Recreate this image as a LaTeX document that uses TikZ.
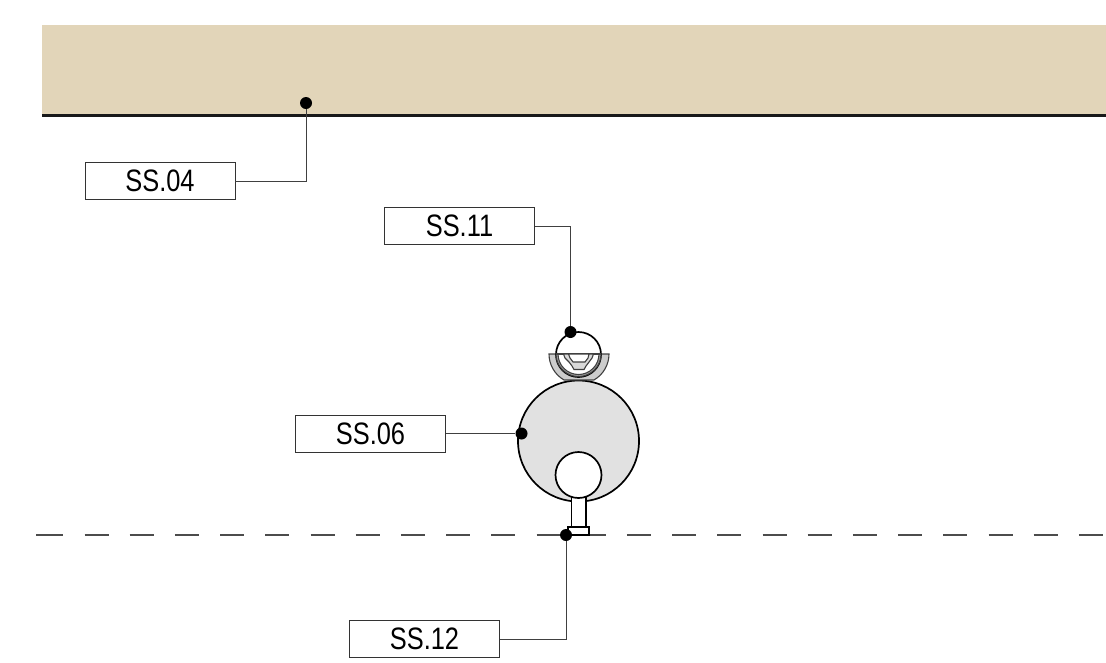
\documentclass[tikz,border=0pt]{standalone}
\usepackage{fontspec}
\setmainfont[FakeStretch=0.82]{Liberation Sans}
\definecolor{earth}{RGB}{226,213,185}
\definecolor{pipegray}{RGB}{225,225,225}
\begin{document}
\begin{tikzpicture}[x=1pt,y=-1pt,
  tag/.style={draw=black!80,line width=0.9pt,fill=white,minimum width=150pt,minimum height=37pt,inner sep=0pt,font=\fontsize{31}{31}\selectfont},
  leader/.style={draw=black!75,line width=1pt},
  pin/.style={circle,fill=black,minimum size=12pt,inner sep=0pt},
  part/.style={draw=black,line width=1.7pt},
  thin part/.style={draw=black!75,line width=1.1pt},
  axis/.style={line width=1.5pt,black!70}]
\useasboundingbox (0,0) rectangle (1106,662);
\fill[earth] (42,25) rectangle (1106,115);
\draw[line width=3pt,black!90] (42,115) -- (1106,115);
\draw[axis] (36,535) -- (63,535);
\draw[axis,dash pattern=on 24pt off 21.2pt] (84.5,535) -- (1106,535);
% pipe and saddle
\draw[part,fill=pipegray] (578.5,441) circle (60.5);
\draw[part,fill=white] (571.5,495) rectangle (586,528);
\draw[part,fill=white] (568,527) rectangle (589,535);
\draw[part,fill=white] (578.5,475) circle (23);
\draw[thin part,fill=black!20] (549,354) arc (180:120:30) -- ++(30,0) arc (60:0:30) -- cycle;
\draw[part,fill=white] (578.5,354.5) circle (22.5);
\draw[thin part,fill=black!35] (556,354) arc (180:0:22.5) -- (599,354) arc (0:180:20.5) -- cycle;
\draw[thin part] (556,354) -- (601,354);
\draw[thin part,fill=black!15] (563.5,354) -- (565,358) -- (569,362) -- (572,366) -- (574,369.5) -- (584,369.5) -- (586,366) -- (589,362) -- (592,358) -- (593.5,354) -- cycle;
\draw[thin part,fill=white] (568.5,354) -- (570,358) -- (573,362) -- (585,362) -- (588,358) -- (589,354) -- cycle;
% tags
\node[tag] (ss04) at (160,181) {SS.04};
\node[tag] (ss11) at (459.5,226) {SS.11};
\node[tag] (ss06) at (370.5,433.5) {SS.06};
\node[tag] (ss12) at (424.5,639) {SS.12};
\node[pin] (ground) at (306,103) {};
\node[pin] (cable) at (570.5,332) {};
\node[pin] (main) at (521.5,433.5) {};
\node[pin] (bed) at (566,535) {};
\draw[leader] (ss04.east) -| (ground);
\draw[leader] (ss11.east) -| (cable);
\draw[leader] (ss06.east) -- (main);
\draw[leader] (ss12.east) -| (bed);
\end{tikzpicture}
\end{document}
